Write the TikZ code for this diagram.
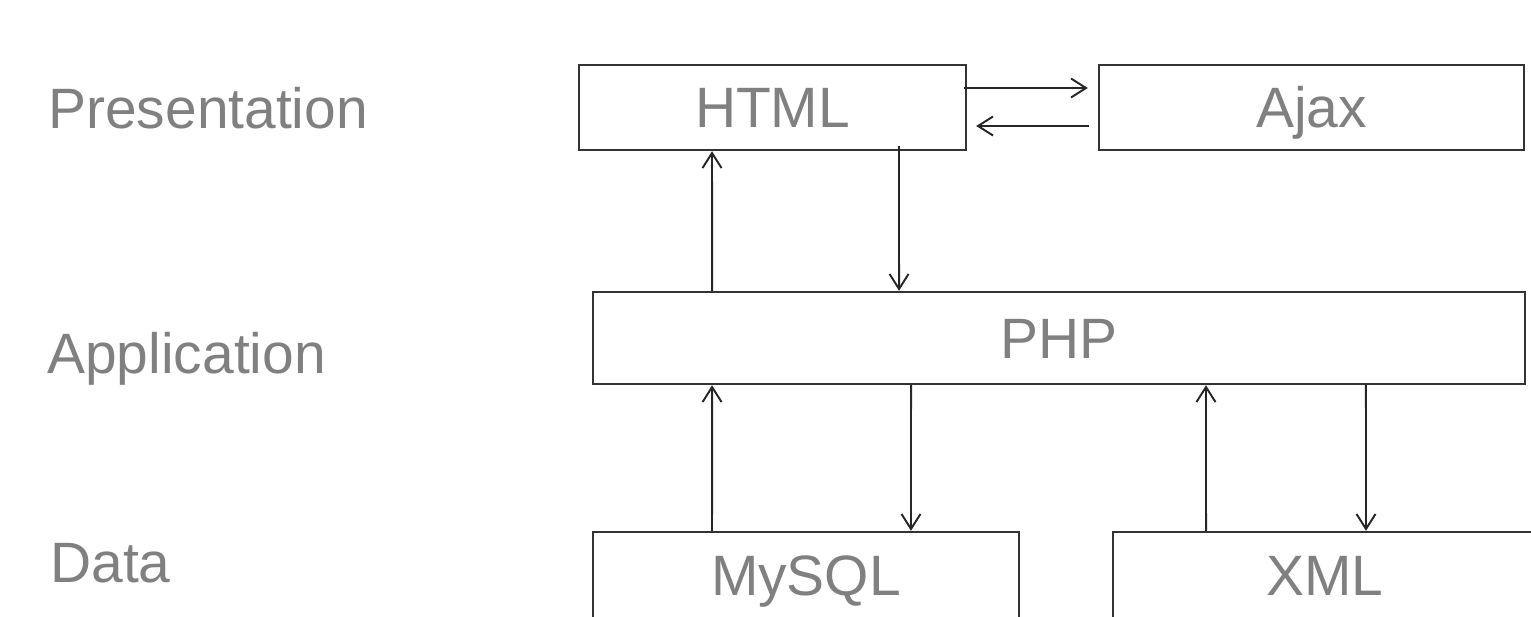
\documentclass[tikz,border=0pt]{standalone}
\usepackage{fontspec}
\setmainfont{Liberation Sans}
\usetikzlibrary{arrows.meta}
\tikzset{
    >={Straight Barb[length=0.3cm,width=0.38cm]},
    stack/.style={
        tier/.append style={draw=black!80,line width=1.4pt,inner sep=0pt,text height=23.2pt,text depth=0pt,text=black!50,font=\fontsize{32.4}{38}\selectfont},
        layer/.append style={anchor=base west,inner sep=0pt,text=black!50,font=\fontsize{32.4}{38}\selectfont},
        flow/.append style={->,line width=1.1pt,draw=black!85}
    }
}

\begin{document}
\begin{tikzpicture}[stack,x=0.02cm,y=-0.02cm]
    \useasboundingbox (0,0) rectangle (1531,616);
    \clip (0,0) rectangle (1531,616);

    \node[layer] (lpres) at (48,128) {Presentation};
    \node[layer] (lapp) at (47,373) {Application};
    \node[layer] (ldata) at (50,582) {Data};

    \node[tier,minimum width=7.74cm,minimum height=1.7cm] (html) at (772.5,107.5) {HTML};
    \node[tier,minimum width=8.5cm,minimum height=1.7cm] (ajax) at (1311.5,107.5) {Ajax};
    \node[tier,minimum width=18.64cm,minimum height=1.84cm] (php) at (1059,338) {PHP};
    \node[tier,minimum width=8.52cm,minimum height=1.72cm] (mysql) at (806,575) {MySQL};
    \node[tier,minimum width=8.48cm,minimum height=1.72cm] (xml) at (1325,575) {XML};

    \draw[flow] ([shift={(-0.06cm,0.39cm)}]html.east) -- ([shift={(-0.2cm,0.39cm)}]ajax.west);
    \draw[flow] ([shift={(-0.18cm,-0.37cm)}]ajax.west) -- ([shift={(0.18cm,-0.37cm)}]html.east);

    \draw[flow] ([xshift=-6.94cm]php.north) -- ([xshift=-1.21cm]html.south);
    \draw[flow] ([shift={(2.53cm,0.1cm)}]html.south) -- ([xshift=-3.2cm]php.north);

    \draw[flow] ([xshift=-1.88cm]mysql.north) -- ([xshift=-6.94cm]php.south);
    \draw[flow] ([xshift=-2.96cm]php.south) -- ([xshift=2.1cm]mysql.north);
    \draw[flow] ([xshift=-2.38cm]xml.north) -- ([xshift=2.94cm]php.south);
    \draw[flow] ([xshift=6.14cm]php.south) -- ([xshift=0.82cm]xml.north);
\end{tikzpicture}
\end{document}
